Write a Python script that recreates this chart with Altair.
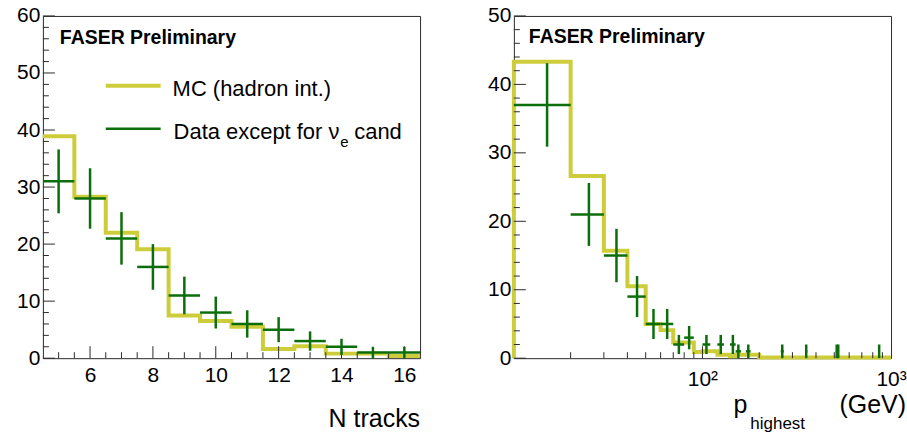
import altair as alt
import pandas as pd

FONT = "Liberation Sans"
MC_COLOR = "#cdcd3c"
DATA_COLOR = "#0b6e0b"
FRAME = "#2b2b2b"
W, H = 378, 343

# ---------------- left panel: number of tracks ----------------
ntrk_edges = [4.5, 5.5, 6.5, 7.5, 8.5, 9.5, 10.5, 11.5, 12.5, 13.5, 14.5, 15.5, 16.5]
ntrk_mc = [38.9, 28.3, 22.0, 19.1, 7.5, 6.5, 5.5, 1.6, 2.1, 0.8, 0.8, 0.4]
ntrk_centers = [5, 6, 7, 8, 9, 10, 11, 12, 13, 14, 15, 16]
ntrk_counts = [31, 28, 21, 16, 11, 8, 6, 5, 3, 2, 1, 1]
ntrk_err = [5.6, 5.3, 4.6, 4.0, 3.3, 2.8, 2.4, 2.2, 1.7, 1.4, 1.0, 1.0]
ntrk_halfwidth = 0.5
ntrk_xlabels = [6, 8, 10, 12, 14, 16]
ntrk_xminor = [5, 5.5, 6.5, 7, 7.5, 8.5, 9, 9.5, 10.5, 11, 11.5, 12.5, 13, 13.5, 14.5, 15, 15.5]
ntrk_ylabels = [0, 10, 20, 30, 40, 50, 60]
ntrk_yminor = [2, 4, 6, 8, 12, 14, 16, 18, 22, 24, 26, 28, 32, 34, 36, 38, 42, 44, 46, 48, 52, 54, 56, 58]

# ---------------- right panel: highest momentum ----------------
p_edges = [10, 20, 30, 40, 50, 60, 70, 90, 100, 120, 140, 150, 200, 1000]
p_mc = [43.3, 26.6, 15.7, 10.5, 5.0, 4.1, 2.3, 0.9, 1.0, 0.5, 0.3, 0.5, 0.1]
p_centers = [15, 25, 35, 45, 55, 65, 75, 85, 105, 125, 145, 155, 175, 265, 355, 515, 525, 865]
p_counts = [37, 21, 15, 9, 5, 5, 2, 3, 2, 2, 2, 1, 1, 1, 1, 1, 1, 1]
p_err = [6.1, 4.6, 3.9, 3.0, 2.2, 2.2, 1.4, 1.7, 1.4, 1.4, 1.4, 1, 1, 1, 1, 1, 1, 1]
p_halfwidth = 5
p_xlabels = [100, 1000]
p_xmajor = [100]
p_xminor = [20, 30, 40, 50, 60, 70, 80, 90, 200, 300, 400, 500, 600, 700, 800, 900]
p_ylabels = [0, 10, 20, 30, 40, 50]
p_yminor = [2, 4, 6, 8, 12, 14, 16, 18, 22, 24, 26, 28, 32, 34, 36, 38, 42, 44, 46, 48]

one = pd.DataFrame({"k": [0]})


def text(t, x, y, size, align="left", weight="normal"):
    return alt.Chart(one).mark_text(
        text=t, font=FONT, fontSize=size, fontWeight=weight, align=align,
        baseline="alphabetic", color="black"
    ).encode(x=alt.value(x), y=alt.value(y))


def panel(edges, mc, start_zero, centers, counts, err, hw, xs, ys,
          xaxis, yaxis, xmajor, xminor, ymajor, yminor, extra):
    xs_ = list(edges)
    ys_ = list(mc) + [mc[-1]]
    if start_zero:
        xs_ = [edges[0]] + xs_
        ys_ = [0] + ys_
    mcdf = pd.DataFrame({"x": xs_, "y": ys_, "i": list(range(len(xs_)))})
    dd = pd.DataFrame({"c": centers, "n": counts, "e": err})
    dd["lo"] = dd["n"] - dd["e"]
    dd["hi"] = dd["n"] + dd["e"]
    dd["xlo"] = dd["c"] - hw
    dd["xhi"] = dd["c"] + hw

    mcline = alt.Chart(mcdf).mark_line(
        interpolate="step-after", color=MC_COLOR, strokeWidth=4
    ).encode(
        x=alt.X("x:Q", scale=xs, axis=xaxis),
        y=alt.Y("y:Q", scale=ys, axis=yaxis),
        order="i:Q",
    )
    vbar = alt.Chart(dd).mark_rule(color=DATA_COLOR, strokeWidth=2.5).encode(
        x=alt.X("c:Q", scale=xs, axis=xaxis),
        y=alt.Y("lo:Q", scale=ys, axis=yaxis),
        y2="hi:Q",
    )
    hbar = alt.Chart(dd).mark_rule(color=DATA_COLOR, strokeWidth=2.5).encode(
        x=alt.X("xlo:Q", scale=xs, axis=xaxis),
        x2="xhi:Q",
        y=alt.Y("n:Q", scale=ys, axis=yaxis),
    )

    def yt(vals, ln):
        return alt.Chart(pd.DataFrame({"v": vals})).mark_rule(color=FRAME, strokeWidth=1).encode(
            y=alt.Y("v:Q", scale=ys, axis=yaxis), x=alt.value(0), x2=alt.value(ln))

    def xt(vals, ln):
        return alt.Chart(pd.DataFrame({"v": vals})).mark_rule(color=FRAME, strokeWidth=1).encode(
            x=alt.X("v:Q", scale=xs, axis=xaxis), y=alt.value(H), y2=alt.value(H - ln))

    layers = [mcline, yt(ymajor, 12), yt(yminor, 6), xt(xmajor, 12), xt(xminor, 6),
              vbar, hbar] + extra
    return alt.layer(*layers).properties(width=W, height=H)


def yax(vals):
    return alt.Axis(values=vals, title=None, grid=False, ticks=False, domain=False,
                    labelFont=FONT, labelFontSize=21, labelColor="black", labelPadding=3,
                    minExtent=30, maxExtent=30, labelFlush=False, labelOverlap=False)


left_x = alt.Axis(values=ntrk_xlabels, title=None, grid=False, ticks=False, domain=False,
                  labelFont=FONT, labelFontSize=21, labelColor="black", labelPadding=6,
                  labelFlush=False, labelOverlap=False, format="d")
right_x = alt.Axis(values=p_xlabels, title=None, grid=False, ticks=False, domain=False,
                   labelFont=FONT, labelFontSize=21, labelColor="black", labelPadding=10,
                   labelFlush=False, labelOverlap=False,
                   labelExpr="datum.value == 100 ? '10\u00b2' : '10\u00b3'")

legend_mc = alt.Chart(one).mark_rule(color=MC_COLOR, strokeWidth=4).encode(
    x=alt.value(63), x2=alt.value(118), y=alt.value(70))
legend_data = alt.Chart(one).mark_rule(color=DATA_COLOR, strokeWidth=2.5).encode(
    x=alt.value(63), x2=alt.value(118), y=alt.value(113))

left_extra = [
    text("FASER Preliminary", 17, 28, 19.5, weight="bold"),
    legend_mc, legend_data,
    text("MC (hadron int.)", 130, 80, 22),
    text("Data except for \u03bd", 131, 123, 22),
    text("e", 298, 131, 15),
    text("cand", 312, 123, 22),
    text("N tracks", 378, 412, 25, align="right"),
]
right_extra = [
    text("FASER Preliminary", 15, 27, 19.5, weight="bold"),
    text("p", 220, 398, 25),
    text("highest", 237, 414, 17),
    text("(GeV)", 393, 398, 25, align="right"),
]

left = panel(ntrk_edges, ntrk_mc, False, ntrk_centers, ntrk_counts, ntrk_err, ntrk_halfwidth,
             alt.Scale(domain=[4.5, 16.5], nice=False, zero=False),
             alt.Scale(domain=[0, 60], nice=False),
             left_x, yax(ntrk_ylabels), ntrk_xlabels, ntrk_xminor, ntrk_ylabels, ntrk_yminor,
             left_extra)
right = panel(p_edges, p_mc, True, p_centers, p_counts, p_err, p_halfwidth,
              alt.Scale(type="log", domain=[10, 1000], nice=False),
              alt.Scale(domain=[0, 50], nice=False),
              right_x, yax(p_ylabels), p_xmajor, p_xminor, p_ylabels, p_yminor,
              right_extra)

chart = alt.hconcat(left, right, spacing=54).properties(
    padding={"left": 12, "top": 3.5, "right": 0, "bottom": 0},
    background="white",
).configure_view(stroke=FRAME, strokeWidth=1)

chart.save("out.html", embed_options={"renderer": "svg", "actions": False})
